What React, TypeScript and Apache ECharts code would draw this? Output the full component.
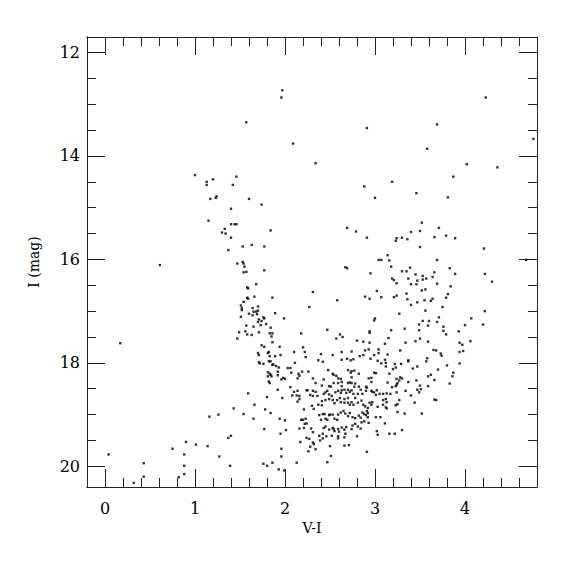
import React, { useEffect, useRef } from "react";
import * as echarts from "echarts";

// Tick values
const xMajorTicks = [0, 1, 2, 3, 4];
const xMinorTicks = [0.2, 0.4, 0.6, 0.8, 1.2, 1.4, 1.6, 1.8, 2.2, 2.4, 2.6, 2.8, 3.2, 3.4, 3.6, 3.8, 4.2, 4.4, 4.6];
const yMajorTicks = [12, 14, 16, 18, 20];
const yMinorTicks = [12.5, 13, 13.5, 14.5, 15, 15.5, 16.5, 17, 17.5, 18.5, 19, 19.5];

// Stars: [V-I, I]
const brightStars = [
  [1.0, 14.37], [1.13, 14.5], [1.13, 14.56], [1.2, 14.45], [1.46, 14.4], [1.42, 14.56],
  [1.97, 12.73], [1.96, 12.87], [1.57, 13.35], [2.91, 13.46], [2.09, 13.76], [2.34, 14.14], [2.88, 14.59], [3.19, 14.5],
  [4.23, 12.87], [3.69, 13.39], [4.76, 13.67], [3.58, 13.86], [4.02, 14.16], [4.36, 14.22], [3.87, 14.4],
];

const blueBranch = [
  [1.17, 14.83], [1.23, 14.81], [1.24, 14.78], [1.4, 15.02], [1.15, 15.25], [1.4, 15.32], [1.44, 15.32], [1.46, 15.32],
  [1.33, 15.41], [1.3, 15.48], [1.34, 15.5], [1.4, 15.58], [1.37, 15.82], [0.61, 16.11], [1.47, 16.08], [1.49, 17.41], [1.47, 17.53],
  [1.6, 14.83], [1.74, 14.94], [1.84, 15.44], [1.53, 15.75], [1.63, 15.72], [1.77, 15.75], [1.53, 16.05], [1.54, 16.08],
  [1.55, 16.14], [1.54, 16.25], [1.57, 16.24], [1.77, 16.21], [1.68, 16.48], [1.58, 16.54], [1.59, 16.56], [2.31, 16.63],
  [1.58, 16.74], [1.59, 16.76], [1.66, 16.72], [1.86, 16.74], [1.54, 16.82], [1.51, 16.89], [1.52, 16.94], [1.52, 16.98],
  [1.7, 16.91], [1.64, 16.94], [2.27, 16.92], [1.6, 17.05], [1.65, 17.01], [1.68, 17.01], [1.69, 17.06], [1.7, 16.99],
  [1.64, 17.08], [1.51, 17.11], [1.89, 17.04], [1.76, 17.12], [1.77, 17.14], [1.74, 17.19], [1.71, 17.16], [1.7, 17.21],
  [1.99, 17.14], [1.57, 17.28], [1.65, 17.3], [1.73, 17.27], [1.79, 17.25], [1.84, 17.32], [1.56, 17.39], [1.58, 17.45],
  [1.63, 17.46], [1.71, 17.41], [1.83, 17.43], [1.86, 17.43], [1.85, 17.49], [2.18, 17.43], [2.47, 17.36], [2.61, 17.45],
  [2.64, 17.5], [2.57, 17.53],
];

const redBranch = [
  [3.0, 14.81], [2.69, 15.39], [2.79, 15.46], [2.91, 15.58], [3.14, 15.92], [3.04, 16.01], [3.07, 16.01], [3.16, 16.02],
  [2.67, 16.15], [2.69, 16.17], [3.18, 16.14], [2.95, 16.27], [3.19, 16.37], [3.21, 16.4], [3.02, 16.61], [2.89, 16.72],
  [2.94, 16.76], [3.07, 16.73], [3.21, 16.73], [2.58, 16.79], [3.0, 17.14], [2.99, 17.18], [2.94, 17.39], [2.94, 17.42],
  [3.18, 17.37], [3.15, 17.52],
  [3.46, 14.72], [3.81, 14.8], [3.52, 15.29], [3.71, 15.39], [3.4, 15.47], [3.5, 15.45], [3.79, 15.54], [3.89, 15.59],
  [3.66, 15.57], [3.24, 15.59], [3.23, 15.64], [3.3, 15.58], [3.36, 15.61], [3.5, 15.76], [4.21, 15.79], [3.69, 16.01],
  [4.68, 16.01], [3.39, 16.16], [3.3, 16.23], [3.35, 16.23], [3.83, 16.17], [3.45, 16.29], [3.66, 16.25], [3.89, 16.28],
  [4.22, 16.28], [3.24, 16.46], [3.37, 16.37], [3.53, 16.32], [3.53, 16.39], [3.47, 16.41], [3.57, 16.37], [3.64, 16.34],
  [3.4, 16.48], [3.46, 16.48], [3.69, 16.47], [4.3, 16.43], [3.84, 16.52], [3.56, 16.58], [3.52, 16.6], [3.35, 16.66],
  [3.81, 16.67], [3.24, 16.7], [3.36, 16.77], [3.79, 16.74], [3.64, 16.76], [3.62, 16.8], [3.55, 16.79], [3.47, 16.83],
  [3.4, 16.88], [3.75, 16.92], [4.22, 17.0], [3.56, 16.99], [3.27, 17.05], [3.71, 17.12], [4.07, 17.14], [3.53, 17.19],
  [3.6, 17.19], [3.69, 17.21], [3.49, 17.26], [3.59, 17.28], [3.76, 17.3], [4.0, 17.27], [4.2, 17.26], [3.33, 17.34],
  [3.49, 17.37], [3.76, 17.38], [3.93, 17.39], [3.79, 17.45], [3.5, 17.53],
  [3.11, 17.63], [3.34, 17.61], [3.45, 17.58], [3.59, 17.59], [3.94, 17.61], [3.97, 17.65], [4.06, 17.58], [3.14, 17.84],
  [3.28, 17.76], [3.65, 17.75], [3.68, 17.76], [3.73, 17.82], [3.74, 17.86], [3.94, 17.79], [3.98, 17.77], [3.11, 17.94],
  [3.12, 18.0], [3.37, 17.95], [3.37, 17.97], [3.58, 17.91], [3.57, 17.97], [3.12, 18.07], [3.22, 18.02], [3.23, 18.09],
  [3.29, 18.02], [3.47, 18.07], [3.42, 18.11], [3.8, 18.05], [3.94, 18.01], [3.7, 18.13], [3.2, 18.12], [3.16, 18.21],
  [3.87, 18.19], [3.59, 18.26], [3.62, 18.23], [3.86, 18.26], [3.28, 18.28], [3.24, 18.31], [3.3, 18.3], [3.14, 18.38],
  [3.27, 18.34], [3.37, 18.37], [3.46, 18.34], [3.66, 18.33], [3.25, 18.39], [3.24, 18.42], [3.83, 18.4], [3.5, 18.44],
  [3.19, 18.47], [3.23, 18.45], [3.59, 18.45], [3.34, 18.54], [3.47, 18.52], [3.51, 18.51], [3.49, 18.57], [3.13, 18.59],
  [3.17, 18.6], [3.24, 18.57], [3.4, 18.63], [3.12, 18.7], [3.13, 18.76], [3.27, 18.72], [3.66, 18.71], [3.68, 18.72],
  [3.44, 18.77], [3.23, 18.82], [3.25, 18.8], [3.12, 18.86], [3.13, 18.88], [3.25, 18.95], [3.33, 18.98], [3.52, 18.98],
  [3.11, 19.17], [3.3, 19.3], [3.16, 19.37], [3.22, 19.37],
];

const faintBlue = [
  [0.17, 17.62], [1.43, 18.88], [1.16, 19.04], [1.26, 19.0], [1.37, 19.45], [1.4, 19.41], [0.9, 19.53], [0.75, 19.66],
  [1.01, 19.58], [1.14, 19.61], [0.04, 19.77], [0.88, 19.77], [1.27, 19.81], [0.43, 19.94], [0.88, 19.99], [1.39, 19.99],
  [0.43, 20.2], [0.82, 20.21], [0.88, 20.15], [0.32, 20.32],
];

const coreStars = [
  [1.86, 17.6], [2.8, 17.57], [2.87, 17.59], [2.94, 17.61], [1.94, 17.69], [1.74, 17.66], [1.77, 17.69], [2.2, 17.7],
  [2.22, 17.79], [2.23, 17.89], [2.1, 17.79], [2.4, 17.83], [2.53, 17.85], [2.63, 17.79], [2.74, 17.78], [2.89, 17.76],
  [2.93, 17.74], [3.04, 17.74], [3.04, 17.81], [1.7, 17.81], [1.71, 17.85], [1.82, 17.79], [1.81, 17.81], [1.83, 17.87],
  [1.89, 17.87], [1.95, 17.85], [1.71, 17.99], [1.72, 18.01], [1.76, 18.02], [1.82, 17.97], [1.84, 17.97], [1.87, 18.03],
  [1.9, 18.06], [1.86, 18.04], [1.93, 18.09], [1.92, 18.17], [1.92, 18.24], [2.03, 18.1], [2.06, 18.1], [2.11, 18.0],
  [2.37, 17.95], [2.42, 17.98], [2.63, 17.94], [2.69, 17.92], [2.73, 17.95], [2.76, 17.93], [2.83, 17.87], [2.87, 17.85],
  [2.99, 17.85], [2.95, 17.92], [3.07, 18.01], [3.03, 17.96], [1.81, 18.18], [1.83, 18.21], [1.84, 18.23], [1.81, 18.26],
  [1.85, 18.26], [1.98, 18.29], [1.96, 18.32], [2.0, 18.31], [1.82, 18.36], [1.83, 18.39], [2.15, 18.21], [2.16, 18.25],
  [2.19, 18.17], [2.26, 18.17], [2.07, 18.19], [2.14, 18.3], [2.31, 18.3], [2.48, 18.14], [2.53, 18.21], [2.54, 18.23],
  [2.57, 18.25], [2.59, 18.3], [2.62, 18.31], [2.7, 18.14], [2.74, 18.16], [2.77, 18.15], [2.73, 18.19], [2.74, 18.28],
  [2.82, 18.21], [2.99, 18.19], [3.01, 18.2], [2.96, 18.29], [2.93, 18.3], [1.59, 18.59], [1.8, 18.66], [2.06, 18.47],
  [1.92, 18.52], [1.97, 18.68], [2.1, 18.56], [2.08, 18.63], [2.14, 18.54], [2.13, 18.63], [2.16, 18.64], [2.16, 18.7],
  [2.14, 18.75], [2.24, 18.53], [2.25, 18.53], [2.31, 18.54], [2.34, 18.56], [2.28, 18.62], [2.34, 18.39], [2.43, 18.32],
  [2.41, 18.44], [2.49, 18.45], [2.51, 18.46], [2.54, 18.39], [2.59, 18.39], [2.63, 18.37], [2.63, 18.45], [2.7, 18.39],
  [2.72, 18.38], [2.74, 18.39], [2.78, 18.4], [2.77, 18.46], [2.82, 18.46], [2.84, 18.52], [2.9, 18.46], [2.91, 18.48],
  [2.96, 18.37], [2.97, 18.56], [3.02, 18.53], [3.01, 18.62], [3.05, 18.6], [3.09, 18.6], [2.31, 18.64], [2.36, 18.64],
  [2.43, 18.6], [2.45, 18.57], [2.47, 18.54], [2.49, 18.61], [2.52, 18.64], [2.56, 18.57], [2.59, 18.54], [2.63, 18.53],
  [2.62, 18.58], [2.66, 18.52], [2.68, 18.58], [2.7, 18.52], [2.72, 18.56], [2.74, 18.53], [2.76, 18.6], [2.81, 18.6],
  [2.86, 18.6], [2.9, 18.54], [2.96, 18.54], [2.99, 18.57], [3.09, 18.72], [1.66, 18.81], [1.78, 18.9], [1.84, 18.97],
  [1.54, 18.99], [1.65, 19.08], [2.0, 19.11], [1.94, 19.08], [2.21, 18.9], [2.3, 18.83], [2.32, 18.89], [2.37, 18.81],
  [2.41, 18.74], [2.41, 18.82], [2.45, 18.72], [2.49, 18.7], [2.53, 18.72], [2.55, 18.78], [2.58, 18.72], [2.61, 18.68],
  [2.62, 18.76], [2.66, 18.7], [2.66, 18.77], [2.7, 18.68], [2.7, 18.77], [2.72, 18.81], [2.74, 18.76], [2.76, 18.81],
  [2.78, 18.68], [2.81, 18.77], [2.85, 18.73], [2.87, 18.81], [2.89, 18.84], [2.92, 18.87], [2.94, 18.77], [2.96, 18.81],
  [2.97, 18.76], [3.03, 18.85], [3.09, 18.81],
];

const faintCore = [
  [2.2, 19.1], [2.23, 19.08], [2.24, 19.17], [2.22, 19.18], [2.18, 19.1], [2.16, 19.27], [2.21, 19.26], [2.29, 19.27],
  [2.38, 19.01], [2.4, 19.1], [2.42, 18.99], [2.44, 18.99], [2.45, 19.08], [2.47, 19.1], [2.49, 19.01], [2.5, 19.0],
  [2.53, 19.0], [2.55, 19.08], [2.58, 19.1], [2.59, 19.0], [2.62, 18.96], [2.65, 18.93], [2.67, 18.98], [2.7, 19.03],
  [2.72, 18.97], [2.75, 19.05], [2.78, 19.07], [2.82, 19.02], [2.84, 19.06], [2.86, 18.96], [2.88, 18.99], [2.9, 19.01],
  [2.92, 18.97], [2.92, 19.05], [2.93, 19.16], [2.91, 18.93], [3.01, 19.05], [3.06, 19.05], [2.43, 19.26], [2.45, 19.23],
  [2.49, 19.29], [2.53, 19.26], [2.54, 19.28], [2.55, 19.32], [2.59, 19.28], [2.6, 19.33], [2.63, 19.25], [2.66, 19.29],
  [2.68, 19.24], [2.75, 19.21], [2.78, 19.18], [2.81, 19.23], [2.84, 19.27], [2.88, 19.13], [2.74, 19.28], [2.85, 19.15],
  [3.02, 19.32], [3.03, 19.39], [1.77, 19.28], [2.01, 19.3], [1.95, 19.37], [2.31, 19.34], [2.24, 19.45], [2.27, 19.47],
  [2.31, 19.54], [2.32, 19.57], [2.28, 19.62], [2.34, 19.67], [2.17, 19.53], [2.26, 19.71], [2.38, 19.41], [2.39, 19.5],
  [2.42, 19.46], [2.42, 19.37], [2.46, 19.42], [2.52, 19.41], [2.59, 19.42], [2.59, 19.46], [2.66, 19.44], [2.67, 19.37],
  [2.8, 19.42], [2.66, 19.6], [2.71, 19.59], [2.5, 19.61], [2.91, 19.72], [2.51, 19.8], [2.47, 19.92], [1.96, 19.66],
  [1.96, 19.81], [2.13, 19.93], [1.76, 19.95], [1.8, 19.99], [1.86, 19.93], [1.93, 20.06], [1.99, 20.08],
];

const FONT = "DejaVu Serif";
const LINE = "#222";

function xAxisCfg(position: string, ticks: number[], len: number, withLabels: boolean) {
  return {
    type: "value",
    position,
    min: -0.2,
    max: 4.8,
    splitLine: { show: false },
    axisLine: { show: true, onZero: false, lineStyle: { color: LINE, width: 1 } },
    axisTick: { show: true, inside: true, length: len, customValues: ticks, lineStyle: { color: LINE, width: 1 } },
    axisLabel: withLabels
      ? { show: true, customValues: ticks, margin: 13, fontFamily: FONT, fontSize: 16, color: "#000" }
      : { show: false },
  };
}

function yAxisCfg(position: string, ticks: number[], len: number, withLabels: boolean) {
  return {
    type: "value",
    position,
    inverse: true,
    min: 11.7,
    max: 20.4,
    splitLine: { show: false },
    axisLine: { show: true, onZero: false, lineStyle: { color: LINE, width: 1 } },
    axisTick: { show: true, inside: true, length: len, customValues: ticks, lineStyle: { color: LINE, width: 1 } },
    axisLabel: withLabels
      ? { show: true, customValues: ticks, margin: 7, fontFamily: FONT, fontSize: 16, color: "#000" }
      : { show: false },
  };
}

export default function App() {
  const ref = useRef<HTMLDivElement>(null);
  useEffect(() => {
    if (!ref.current) return;
    const chart = echarts.init(ref.current, null, { renderer: "svg" });
    const allStars = [...brightStars, ...blueBranch, ...redBranch, ...faintBlue, ...coreStars, ...faintCore];
    const xMain: any = xAxisCfg("bottom", xMajorTicks, 18, true);
    xMain.name = "V-I";
    xMain.nameLocation = "middle";
    xMain.nameGap = 30;
    xMain.nameTextStyle = { fontFamily: FONT, fontSize: 14, color: "#000" };
    const yMain: any = yAxisCfg("left", yMajorTicks, 18, true);
    yMain.name = "I (mag)";
    yMain.nameLocation = "middle";
    yMain.nameGap = 46;
    yMain.nameTextStyle = { fontFamily: FONT, fontSize: 14, color: "#000" };
    chart.setOption({
      animation: false,
      backgroundColor: "#fff",
      grid: { left: 87, top: 37, width: 450, height: 450, containLabel: false },
      xAxis: [
        xMain,
        xAxisCfg("bottom", xMinorTicks, 9, false),
        xAxisCfg("top", xMajorTicks, 18, false),
        xAxisCfg("top", xMinorTicks, 9, false),
      ],
      yAxis: [
        yMain,
        yAxisCfg("left", yMinorTicks, 9, false),
        yAxisCfg("right", yMajorTicks, 18, false),
        yAxisCfg("right", yMinorTicks, 9, false),
      ],
      series: [
        {
          type: "scatter",
          xAxisIndex: 0,
          yAxisIndex: 0,
          symbol: "rect",
          symbolSize: 2.4,
          itemStyle: { color: "#000" },
          data: allStars,
        },
      ],
    });
    return () => chart.dispose();
  }, []);
  return (
    <div
      ref={ref}
      style={{ position: "absolute", left: 0, top: 0, width: 575, height: 575, background: "#fff" }}
    />
  );
}
